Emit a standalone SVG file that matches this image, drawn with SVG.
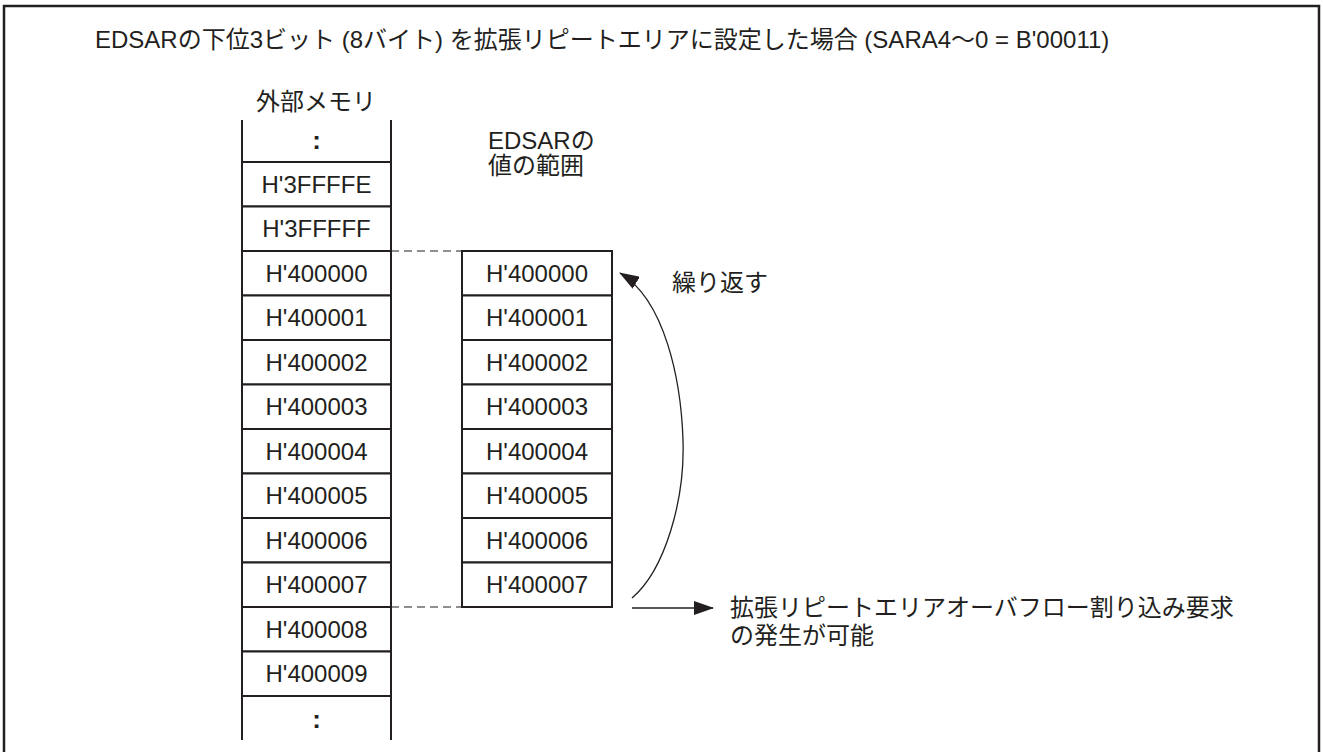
<svg xmlns="http://www.w3.org/2000/svg" width="1323" height="752" viewBox="0 0 1323 752">
<style>
  text { font-family: "Liberation Sans", "Noto Sans CJK JP", sans-serif; font-size: 24px; fill: #231f20; }
  .c { text-anchor: middle; }
  .cell { fill: #fff; stroke: #231f20; stroke-width: 2; }
  .side { stroke: #231f20; stroke-width: 2; fill: none; }
  .dash { stroke: #231f20; stroke-width: 1.2; stroke-dasharray: 8 5; fill: none; }
  .conn { stroke: #231f20; stroke-width: 1.3; fill: none; }
  .dots { font-weight: bold; font-size: 26px; }
</style>
<defs>
  <marker id="ah" markerUnits="userSpaceOnUse" viewBox="0 0 20 14" markerWidth="20" markerHeight="14" refX="19" refY="7" orient="auto">
    <path d="M0,0 L20,7 L0,14 z" fill="#231f20"/>
  </marker>
</defs>
<rect x="4" y="6" width="1315" height="760" fill="#fff" stroke="#231f20" stroke-width="2.5"/>
<text id="title" x="95" y="48">EDSARの下位3ビット (8バイト) を拡張リピートエリアに設定した場合 (SARA4〜0 = B'00011)</text>
<text id="mem-label" class="c" x="316" y="110">外部メモリ</text>
<g id="edsar-label"><text x="488" y="149">EDSARの</text><text x="488" y="174">値の範囲</text></g>

<g id="mem-top"><path class="side" d="M242,120 V162 M391,120 V162"/><text class="c dots" x="316.5" y="149">:</text></g>
<g id="m0"><rect class="cell" x="242" y="162" width="149" height="44.5"/><text class="c" x="316.5" y="193">H'3FFFFE</text></g>
<g id="m1"><rect class="cell" x="242" y="206.5" width="149" height="44.5"/><text class="c" x="316.5" y="237.3">H'3FFFFF</text></g>
<g id="m2"><rect class="cell" x="242" y="251" width="149" height="44.5"/><text class="c" x="316.5" y="281.8">H'400000</text></g>
<g id="m3"><rect class="cell" x="242" y="295.5" width="149" height="44.5"/><text class="c" x="316.5" y="326.3">H'400001</text></g>
<g id="m4"><rect class="cell" x="242" y="340" width="149" height="44.5"/><text class="c" x="316.5" y="370.8">H'400002</text></g>
<g id="m5"><rect class="cell" x="242" y="384.5" width="149" height="44.5"/><text class="c" x="316.5" y="415.3">H'400003</text></g>
<g id="m6"><rect class="cell" x="242" y="429" width="149" height="44.5"/><text class="c" x="316.5" y="459.8">H'400004</text></g>
<g id="m7"><rect class="cell" x="242" y="473.5" width="149" height="44.5"/><text class="c" x="316.5" y="504.3">H'400005</text></g>
<g id="m8"><rect class="cell" x="242" y="518" width="149" height="44.5"/><text class="c" x="316.5" y="548.8">H'400006</text></g>
<g id="m9"><rect class="cell" x="242" y="562.5" width="149" height="44.5"/><text class="c" x="316.5" y="593.3">H'400007</text></g>
<g id="m10"><rect class="cell" x="242" y="607" width="149" height="44.5"/><text class="c" x="316.5" y="637.8">H'400008</text></g>
<g id="m11"><rect class="cell" x="242" y="651.5" width="149" height="44.5"/><text class="c" x="316.5" y="682.3">H'400009</text></g>
<g id="mem-bottom"><path class="side" d="M242,696 V740 M391,696 V740"/><text class="c dots" x="316.5" y="728">:</text></g>

<g id="e0"><rect class="cell" x="462" y="251" width="150" height="44.5"/><text class="c" x="537" y="281.8">H'400000</text></g>
<g id="e1"><rect class="cell" x="462" y="295.5" width="150" height="44.5"/><text class="c" x="537" y="326.3">H'400001</text></g>
<g id="e2"><rect class="cell" x="462" y="340" width="150" height="44.5"/><text class="c" x="537" y="370.8">H'400002</text></g>
<g id="e3"><rect class="cell" x="462" y="384.5" width="150" height="44.5"/><text class="c" x="537" y="415.3">H'400003</text></g>
<g id="e4"><rect class="cell" x="462" y="429" width="150" height="44.5"/><text class="c" x="537" y="459.8">H'400004</text></g>
<g id="e5"><rect class="cell" x="462" y="473.5" width="150" height="44.5"/><text class="c" x="537" y="504.3">H'400005</text></g>
<g id="e6"><rect class="cell" x="462" y="518" width="150" height="44.5"/><text class="c" x="537" y="548.8">H'400006</text></g>
<g id="e7"><rect class="cell" x="462" y="562.5" width="150" height="44.5"/><text class="c" x="537" y="593.3">H'400007</text></g>

<g id="connectors">
  <path class="dash" d="M391,251 H462 M391,607 H462"/>
  <path class="conn" marker-end="url(#ah)" d="M632,598 C665,570 685,500 683,440 C681,380 665,300 620,273"/>
  <path class="conn" marker-end="url(#ah)" d="M632,608 H713"/>
</g>
<text id="repeat-label" x="672" y="291">繰り返す</text>
<g id="overflow-label"><text x="730" y="616">拡張リピートエリアオーバフロー割り込み要求</text><text x="730" y="644">の発生が可能</text></g>
</svg>
